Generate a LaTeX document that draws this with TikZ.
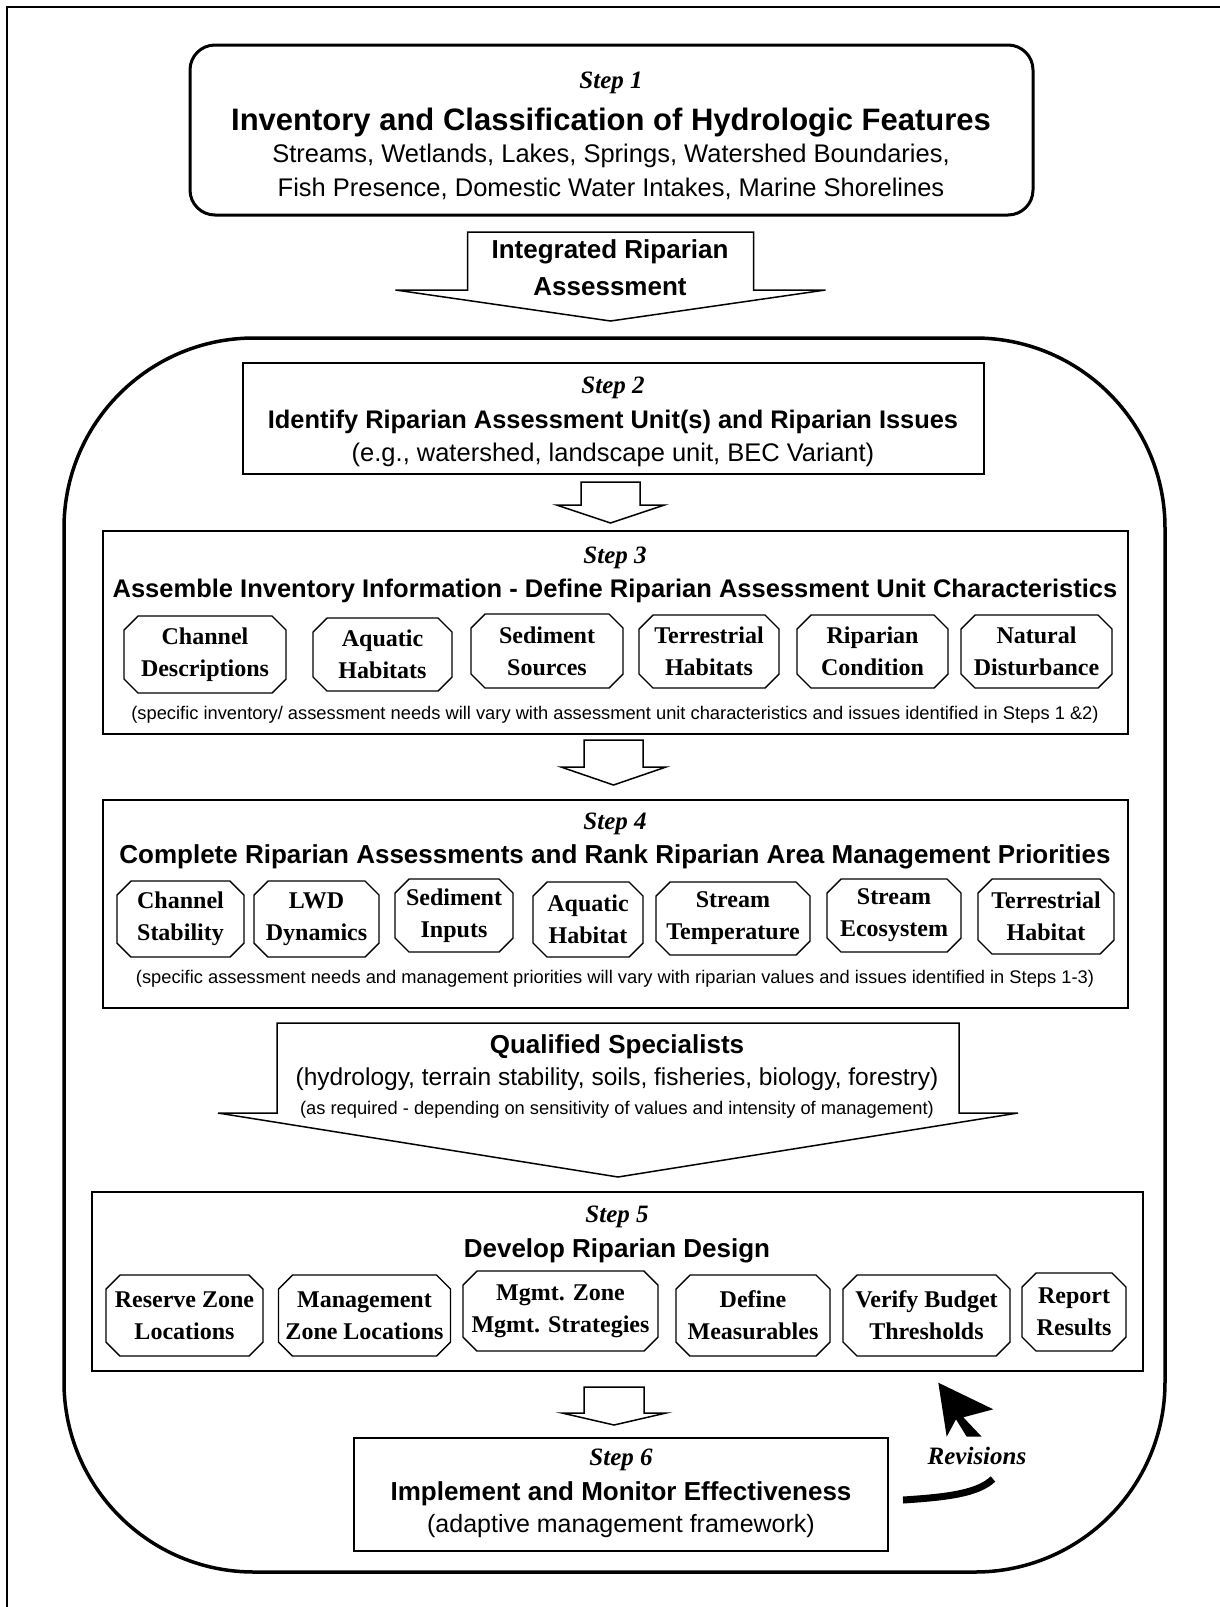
\documentclass[tikz,border=0pt]{standalone}
\usepackage{fontspec}
\setmainfont{Liberation Sans}
\newfontfamily\tms{Liberation Serif}
\usetikzlibrary{shapes.misc}
\tikzset{
  bigbox/.style={draw, line width=1.5, inner sep=0},
  subbox/.style={draw, line width=1.4, chamfered rectangle, chamfered rectangle xsep=7pt, chamfered rectangle ysep=7pt, inner sep=0, align=center, font={\tms\bfseries\fontsize{24}{32}\selectfont}},
  txt/.style={inner sep=0, yshift=-3.5pt},
  lbl/.style={txt, font={\tms\bfseries\itshape\fontsize{25}{30}\selectfont}},
  ttl/.style={txt, font={\bfseries\fontsize{26}{30}\selectfont}},
  sub/.style={txt, font={\fontsize{25.5}{30}\selectfont}},
  foot/.style={txt, font={\fontsize{18.3}{22}\selectfont}},
  blk/.style={draw, line width=1.5, fill=white}
}
\newcommand\blkarrow[6]{%
  \draw[blk] ({#1-#5},#2) -- ({#1+#5},#2) -- ({#1+#5},#3) -- ({#1+#6},#3) -- (#1,#4) -- ({#1-#6},#3) -- ({#1-#5},#3) -- cycle;}
\begin{document}
\begin{tikzpicture}[x=1pt,y=-1pt]
\useasboundingbox (0,0) rectangle (1220,1607);
% page frame
\draw[line width=2] (7,1607) -- (7,6.5) -- (1220,6.5);
% outer rounded frame
\draw[line width=3.5, rounded corners=190] (64,338) rectangle (1165,1572);

% Step 1
\node[draw, line width=3, rounded corners=25, minimum width=843, minimum height=170] (s1) at (611.5,130) {};
\node[lbl] (s1a) at (611,79) {Step 1};
\node[txt, font={\bfseries\fontsize{31}{36}\selectfont}] (s1b) at (611,119) {Inventory and Classification of Hydrologic Features};
\node[sub] (s1c) at (611,152) {Streams, Wetlands, Lakes, Springs, Watershed Boundaries,};
\node[sub] (s1d) at (611,185) {Fish Presence, Domestic Water Intakes, Marine Shorelines};

% Integrated arrow
\blkarrow{610.5}{232}{290}{321}{143}{215}
\node[ttl] (ira) at (610,248) {Integrated Riparian};
\node[ttl] (irb) at (610,283) {Assessment};

% Step 2
\node[bigbox, minimum width=741, minimum height=111] (s2) at (613.5,418.5) {};
\node[lbl] (s2a) at (613,384) {Step 2};
\node[ttl, font={\bfseries\fontsize{25.4}{30}\selectfont}] (s2b) at (613,418) {Identify Riparian Assessment Unit(s) and Riparian Issues};
\node[sub] (s2c) at (613,451) {(e.g., watershed, landscape unit, BEC Variant)};

\blkarrow{610.5}{482}{505}{523}{29.5}{54}

% Step 3
\node[bigbox, minimum width=1025, minimum height=203] (s3) at (615.5,632.5) {};
\node[lbl] (s3a) at (615,554) {Step 3};
\node[ttl, font={\bfseries\fontsize{25.5}{30}\selectfont}] (s3b) at (615,587) {Assemble Inventory Information - Define Riparian Assessment Unit Characteristics};
\node[subbox, minimum width=162, minimum height=77] (c1) at (205,654.5) {Channel\\Descriptions};
\node[subbox, minimum width=139, minimum height=73] (c2) at (382.5,654.5) {Aquatic\\Habitats};
\node[subbox, minimum width=152, minimum height=74] (c3) at (547,651) {Sediment\\Sources};
\node[subbox, minimum width=140, minimum height=73] (c4) at (709,651.5) {Terrestrial\\Habitats};
\node[subbox, minimum width=151, minimum height=73] (c5) at (872.5,651.5) {Riparian\\Condition};
\node[subbox, minimum width=151, minimum height=73] (c6) at (1036.5,651.5) {Natural\\Disturbance};
\node[foot] (s3f) at (615,711) {(specific inventory/ assessment needs will vary with assessment unit characteristics and issues identified in Steps 1 \&2)};

\blkarrow{613.5}{740}{767}{785}{29.5}{52.5}

% Step 4
\node[bigbox, minimum width=1025, minimum height=208] (s4) at (615.5,904) {};
\node[lbl] (s4a) at (615,820) {Step 4};
\node[ttl] (s4b) at (615,853) {Complete Riparian Assessments and Rank Riparian Area Management Priorities};
\node[subbox, minimum width=127, minimum height=76] (d1) at (180.5,919) {Channel\\Stability};
\node[subbox, minimum width=125, minimum height=76] (d2) at (316.5,919) {LWD\\Dynamics};
\node[subbox, minimum width=118, minimum height=73] (d3) at (454,915.5) {Sediment\\Inputs};
\node[subbox, minimum width=110, minimum height=75] (d4) at (588,919.5) {Aquatic\\Habitat};
\node[subbox, minimum width=154, minimum height=73] (d5) at (733,918.5) {Stream\\Temperature};
\node[subbox, minimum width=134, minimum height=73] (d6) at (894,915.5) {Stream\\Ecosystem};
\node[subbox, minimum width=136, minimum height=75] (d7) at (1046,916.5) {Terrestrial\\Habitat};
\node[foot] (s4f) at (615,975) {(specific assessment needs and management priorities will vary with riparian values and issues identified in Steps 1-3)};

% Qualified specialists arrow
\blkarrow{618}{1023}{1113}{1177}{341}{400}
\node[ttl] (qa) at (617,1043) {Qualified Specialists};
\node[sub, font={\fontsize{24.5}{30}\selectfont}] (qb) at (617,1076) {(hydrology, terrain stability, soils, fisheries, biology, forestry)};
\node[foot] (qc) at (617,1106) {(as required - depending on sensitivity of values and intensity of management)};

% Step 5
\node[bigbox, minimum width=1051, minimum height=179] (s5) at (617.5,1281.5) {};
\node[lbl] (s5a) at (617,1213) {Step 5};
\node[ttl] (s5b) at (617,1247) {Develop Riparian Design};
\node[subbox, minimum width=157, minimum height=81] (e1) at (184.5,1315.5) {Reserve Zone\\Locations};
\node[subbox, minimum width=169, minimum height=81] (e2) at (364.5,1315.5) {Management\\Zone Locations};
\node[subbox, minimum width=195, minimum height=80] (e3) at (560.5,1311) {Mgmt. Zone\\Mgmt. Strategies};
\node[subbox, minimum width=154, minimum height=81] (e4) at (753,1315.5) {Define\\Measurables};
\node[subbox, minimum width=167, minimum height=81] (e5) at (926.5,1315.5) {Verify Budget\\Thresholds};
\node[subbox, minimum width=104, minimum height=78] (e6) at (1074,1312) {Report\\Results};

\blkarrow{614}{1387}{1413}{1425}{30}{52}

% Step 6
\node[bigbox, minimum width=534, minimum height=113] (s6) at (621,1494.5) {};
\node[lbl] (s6a) at (621,1456) {Step 6};
\node[ttl] (s6b) at (621,1490) {Implement and Monitor Effectiveness};
\node[sub, font={\fontsize{25}{30}\selectfont}] (s6c) at (621,1523) {(adaptive management framework)};

% Revisions
\node[inner sep=0, font={\tms\bfseries\itshape\fontsize{25}{30}\selectfont}] (rev) at (977,1456) {Revisions};
\coordinate (r0) at (903,1500);
\coordinate (r1) at (993,1479);
\draw[line width=7] (r0) .. controls (950,1497) and (978,1493) .. (r1);
\fill (938.3,1382.7) -- (993.3,1409.3) -- (963.3,1417.3) -- (981.7,1436.7) -- (966.7,1436.7) -- (956,1419.3) -- (946.7,1436.7) -- cycle;
\end{tikzpicture}
\end{document}
